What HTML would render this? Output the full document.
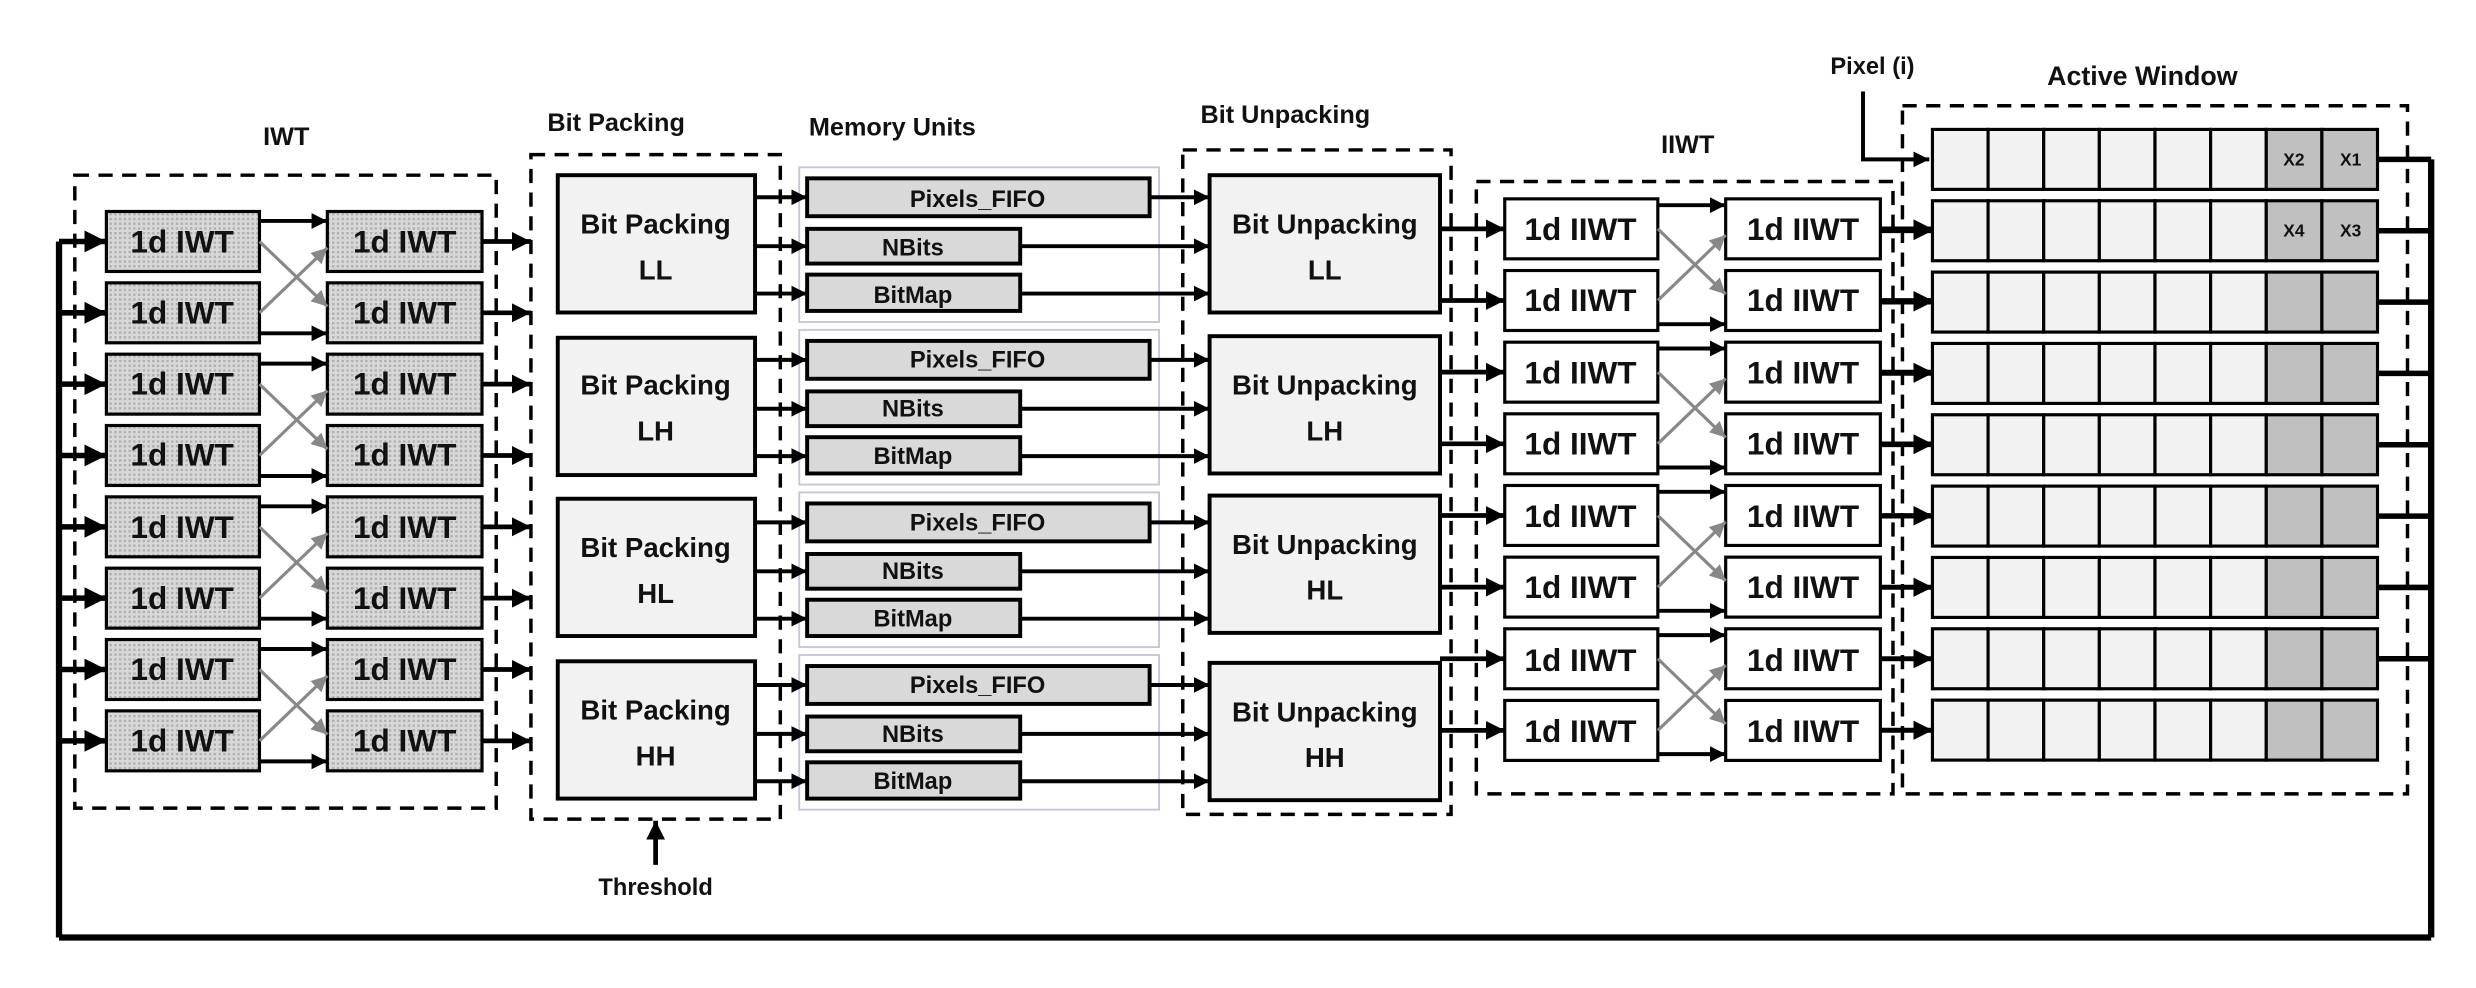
<!DOCTYPE html>
<html><head><meta charset="utf-8"><style>
html,body{margin:0;padding:0;background:#fff;width:2476px;height:988px;overflow:hidden}
svg{display:block}
text{font-family:"Liberation Sans Narrow","Liberation Sans",sans-serif;font-weight:bold;fill:#111;text-anchor:middle}
</style></head><body>
<svg id="s" width="2476" height="988" viewBox="0 0 1568 626" xmlns="http://www.w3.org/2000/svg">
<defs>
<pattern id="dots" width="3" height="3" patternUnits="userSpaceOnUse"><rect width="3" height="3" fill="#d8d8d8"/><rect width="1.5" height="1.5" fill="#b0b0b0"/></pattern>
<marker id="a" viewBox="0 0 10 10" refX="10" refY="5" markerWidth="4" markerHeight="4" orient="auto" markerUnits="strokeWidth"><path d="M0,0L10,5L0,10z" fill="#000"/></marker>
<marker id="g" viewBox="0 0 10 10" refX="10" refY="5" markerWidth="5" markerHeight="5" orient="auto" markerUnits="strokeWidth"><path d="M0,0L10,5L0,10z" fill="#888"/></marker>
</defs>
<g id="shapes"></g>
<g font-size="16">
<text x="181" y="92">IWT</text>
<text x="390" y="83">Bit Packing</text>
<text x="565" y="86">Memory Units</text>
<text x="814" y="78">Bit Unpacking</text>
<text x="1069" y="97">IIWT</text>
<text x="1186" y="47" font-size="15">Pixel (i)</text>
<text x="1357" y="54" font-size="17">Active Window</text>
<text x="415" y="567" font-size="15">Threshold</text>
</g>
<g font-size="20">
<text x="115" y="160">1d IWT</text><text x="256" y="160">1d IWT</text>
<text x="115" y="205">1d IWT</text><text x="256" y="205">1d IWT</text>
<text x="115" y="250">1d IWT</text><text x="256" y="250">1d IWT</text>
<text x="115" y="295">1d IWT</text><text x="256" y="295">1d IWT</text>
<text x="115" y="341">1d IWT</text><text x="256" y="341">1d IWT</text>
<text x="115" y="386">1d IWT</text><text x="256" y="386">1d IWT</text>
<text x="115" y="431">1d IWT</text><text x="256" y="431">1d IWT</text>
<text x="115" y="476">1d IWT</text><text x="256" y="476">1d IWT</text>
<text x="1001" y="152">1d IIWT</text><text x="1142" y="152">1d IIWT</text>
<text x="1001" y="197">1d IIWT</text><text x="1142" y="197">1d IIWT</text>
<text x="1001" y="243">1d IIWT</text><text x="1142" y="243">1d IIWT</text>
<text x="1001" y="288">1d IIWT</text><text x="1142" y="288">1d IIWT</text>
<text x="1001" y="334">1d IIWT</text><text x="1142" y="334">1d IIWT</text>
<text x="1001" y="379">1d IIWT</text><text x="1142" y="379">1d IIWT</text>
<text x="1001" y="425">1d IIWT</text><text x="1142" y="425">1d IIWT</text>
<text x="1001" y="470">1d IIWT</text><text x="1142" y="470">1d IIWT</text>
</g>
<g font-size="17.5">
<text x="415" y="148">Bit Packing</text><text x="415" y="177">LL</text>
<text x="415" y="250">Bit Packing</text><text x="415" y="279">LH</text>
<text x="415" y="353">Bit Packing</text><text x="415" y="382">HL</text>
<text x="415" y="456">Bit Packing</text><text x="415" y="485">HH</text>
<text x="839" y="148">Bit Unpacking</text><text x="839" y="177">LL</text>
<text x="839" y="250">Bit Unpacking</text><text x="839" y="279">LH</text>
<text x="839" y="351">Bit Unpacking</text><text x="839" y="380">HL</text>
<text x="839" y="457">Bit Unpacking</text><text x="839" y="486">HH</text>
</g>
<g font-size="15">
<text x="619" y="131">Pixels_FIFO</text><text x="578" y="162">NBits</text><text x="578" y="192">BitMap</text>
<text x="619" y="233">Pixels_FIFO</text><text x="578" y="264">NBits</text><text x="578" y="294">BitMap</text>
<text x="619" y="336">Pixels_FIFO</text><text x="578" y="367">NBits</text><text x="578" y="397">BitMap</text>
<text x="619" y="439">Pixels_FIFO</text><text x="578" y="470">NBits</text><text x="578" y="500">BitMap</text>
</g>
<g font-size="11">
<text x="1453" y="105">X2</text><text x="1489" y="105">X1</text>
<text x="1453" y="150">X4</text><text x="1489" y="150">X3</text>
</g>
</svg>
<script>
var S=document.getElementById('shapes'),NS='http://www.w3.org/2000/svg';
function el(t,a){var e=document.createElementNS(NS,t);for(var k in a)e.setAttribute(k,a[k]);S.appendChild(e);return e;}
function rect(x,y,w,h,f,sw,st){return el('rect',{x:x,y:y,width:w,height:h,fill:f||'none',stroke:st||'#000','stroke-width':sw||2});}
function dash(x,y,w,h){rect(x,y,w,h,'none',2.2).setAttribute('stroke-dasharray','9 6');}
function arr(x1,y1,x2,y2,c,w){el('line',{x1:x1,y1:y1,x2:x2,y2:y2,stroke:c||'#000','stroke-width':w||2.5,'marker-end':c?'url(#g)':'url(#a)'});}
function ln(x1,y1,x2,y2,w){el('line',{x1:x1,y1:y1,x2:x2,y2:y2,stroke:'#000','stroke-width':w||3});}
dash(47,111,267,401);dash(336,98,158,421);dash(749,95,170,421);dash(935,115,264,388);dash(1205,67,320,436);
[0,103,206,309].forEach(function(o){rect(506,106+o,228,98,'none',1.2,'#c8c4dc');});
ln(37,153,37,594,4);ln(37,594,1540,594,4);ln(1540,101,1540,594,4);
for(var i=0;i<8;i++){var c=153+45.2*i;
 rect(67,c-19,97,38,'url(#dots)',2);rect(207,c-19,98,38,'url(#dots)',2);
 arr(37,c,67,c,0,3.5);arr(305,c,336,c,0,3);}
for(var p=0;p<4;p++){var c1=153+90.4*p,c2=c1+45.2;
 arr(164,c1-13,207,c1-13);arr(164,c2+13,207,c2+13);
 arr(164,c1,207,c2-4,'#888',2);arr(164,c2,207,c1+4,'#888',2);}
for(var i=0;i<8;i++){var c=145+45.4*i;
 rect(953,c-19,97,38,'#fff',2);rect(1093,c-19,98,38,'#fff',2);
 arr(1191,c,1224,c,0,3);}
for(var p=0;p<4;p++){var c1=145+90.8*p,c2=c1+45.4;
 arr(1050,c1-15,1093,c1-15);arr(1050,c2+15,1093,c2+15);
 arr(1050,c1,1093,c2-4,'#888',2);arr(1050,c2,1093,c1+4,'#888',2);
 arr(912,c1,953,c1,0,3);arr(912,c2,953,c2,0,3);}
var pk=[111,214,316,419],up=[111,213,314,420];
for(var g=0;g<4;g++){var o=103*g;
 rect(353,pk[g],125,87,'#f2f2f2',2.5);rect(766,up[g],146,87,'#f2f2f2',2.5);
 rect(511,113+o,217,24,'#d9d9d9',2.5);rect(511,145+o,135,22,'#d9d9d9',2.5);rect(511,174+o,135,23,'#d9d9d9',2.5);
 arr(478,125+o,511,125+o);arr(478,156+o,511,156+o);arr(478,186+o,511,186+o);
 arr(728,125+o,766,125+o);arr(646,156+o,766,156+o);arr(646,186+o,766,186+o);}
for(var r=0;r<9;r++){var y=82+45.2*r;
 for(var k=0;k<8;k++){rect(1224+35.25*k,y,35.25,38,k>5?'#c0c0c0':'#f2f2f2',2);}
 if(r<8)ln(1506,y+19,1540,y+19,3.5);
 if(r>0)arr(1191,y+19,1224,y+19,0,3);}
el('polyline',{points:'1180,58 1180,101 1222,101',fill:'none',stroke:'#000','stroke-width':2.5,'marker-end':'url(#a)'});
arr(415,548,415,520,0,3);
</script>
</body></html>
